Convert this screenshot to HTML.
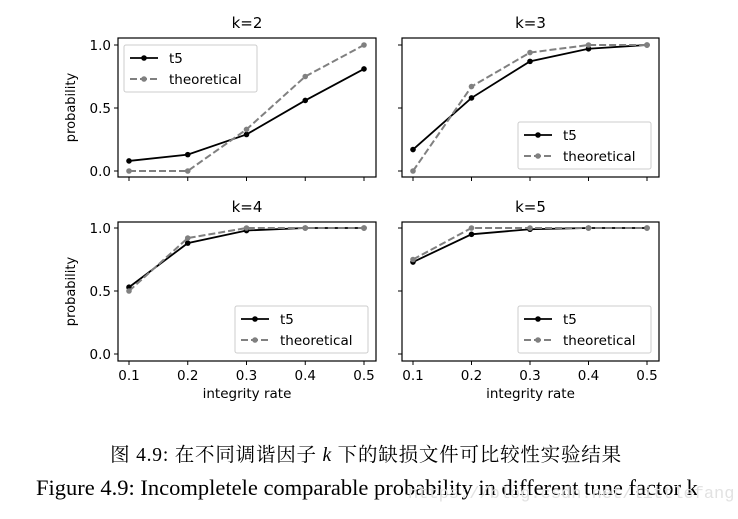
<!DOCTYPE html>
<html><head><meta charset="utf-8"><style>
body{margin:0;background:#fff;width:738px;height:519px;overflow:hidden}
svg{display:block}
text{font-family:"DejaVu Sans",sans-serif;fill:#000}
.cap{font-family:"Liberation Serif","Noto Serif CJK SC",serif}
</style></head><body>
<svg id="c" width="738" height="519"></svg>
<script>
const xCats=[0.1,0.2,0.3,0.4,0.5];
const xTickLabels=["0.1","0.2","0.3","0.4","0.5"];
const yTicks=[0,0.5,1.0];
const yTickLabels=["0.0","0.5","1.0"];
const titles=["k=2","k=3","k=4","k=5"];
const t5K2=[0.08,0.13,0.29,0.56,0.81];
const thK2=[0,0,0.33,0.75,1.0];
const t5K3=[0.17,0.58,0.87,0.97,1.0];
const thK3=[0,0.67,0.94,1.0,1.0];
const t5K4=[0.53,0.88,0.98,1.0,1.0];
const thK4=[0.5,0.92,1.0,1.0,1.0];
const t5K5=[0.73,0.95,0.99,1.0,1.0];
const thK5=[0.75,1.0,1.0,1.0,1.0];
const svg=document.getElementById('c');
const NS='http://www.w3.org/2000/svg';
function mk(t,a,p){const e=document.createElementNS(NS,t);for(const k in a)e.setAttribute(k,a[k]);(p||svg).appendChild(e);return e;}
const panels=[
 {L:118,R:376,T:38,B:177,y1:45,y0:171,t5:t5K2,th:thK2,leg:'ul',yl:true,xl:false},
 {L:402,R:659,T:38,B:177,y1:45,y0:171,t5:t5K3,th:thK3,leg:'lr',yl:false,xl:false},
 {L:118,R:376,T:222,B:361,y1:228,y0:354,t5:t5K4,th:thK4,leg:'lr',yl:true,xl:true},
 {L:402,R:659,T:222,B:361,y1:228,y0:354,t5:t5K5,th:thK5,leg:'lr',yl:false,xl:true}];
panels.forEach((p,i)=>{
 const g=mk('g',{});
 
 
 const x0=p.L+11,x1=p.R-12;
 const sx=v=>x0+(v-xCats[0])/(xCats[4]-xCats[0])*(x1-x0);
 const sy=v=>p.y0-v*(p.y0-p.y1);
 const t=mk('text',{x:(p.L+p.R)/2,y:p.T-10,'text-anchor':'middle','font-size':15},g);t.textContent=titles[i];
 
 xCats.forEach((v,j)=>{mk('line',{x1:sx(v),x2:sx(v),y1:p.B,y2:p.B+4,stroke:'#000'},g);
  if(p.xl){const tt=mk('text',{x:sx(v),y:p.B+19,'text-anchor':'middle','font-size':13.5},g);tt.textContent=xTickLabels[j];
   }});
 yTicks.forEach((v,j)=>{mk('line',{x1:p.L-4,x2:p.L,y1:sy(v),y2:sy(v),stroke:'#000'},g);
  if(p.yl){const tt=mk('text',{x:p.L-7,y:sy(v)+5,'text-anchor':'end','font-size':13.5},g);tt.textContent=yTickLabels[j];
   }});
 if(p.yl){const yl=mk('text',{x:0,y:0,'text-anchor':'middle','font-size':13,transform:`translate(${p.L-43},${(p.T+p.B)/2}) rotate(-90)`},g);yl.textContent='probability';
  }
 if(p.xl){const xl=mk('text',{x:(p.L+p.R)/2,y:p.B+37,'text-anchor':'middle','font-size':13.5},g);xl.textContent='integrity rate';
  }
 const pt=a=>a.map((v,j)=>sx(xCats[j])+','+sy(v)).join(' ');
 const lt=mk('polyline',{points:pt(p.t5),fill:'none',stroke:'#000','stroke-width':1.8},g);
 
 p.t5.forEach((v,j)=>{const c=mk('circle',{cx:sx(xCats[j]),cy:sy(v),r:2.8,fill:'#000'},g);});
 const lh=mk('polyline',{points:pt(p.th),fill:'none',stroke:'#808080','stroke-width':2,'stroke-dasharray':'7,3'},g);
 
 p.th.forEach((v,j)=>{const c=mk('circle',{cx:sx(xCats[j]),cy:sy(v),r:2.8,fill:'#808080'},g);});
 mk('rect',{x:p.L,y:p.T,width:p.R-p.L,height:p.B-p.T,fill:'none',stroke:'#000','stroke-width':1.2},g);
 const lw=133,lh2=47;
 const lx=p.leg==='ul'?p.L+6:p.R-8-lw, ly=p.leg==='ul'?p.T+7:p.B-8-lh2;
 const lg=mk('g',{},g);
 mk('rect',{x:lx,y:ly,width:lw,height:lh2,fill:'#fff',stroke:'#ccc',rx:2},lg);
 mk('line',{x1:lx+6,x2:lx+34,y1:ly+13,y2:ly+13,stroke:'#000','stroke-width':1.8},lg);
 mk('circle',{cx:lx+20,cy:ly+13,r:2.8,fill:'#000'},lg);
 const a=mk('text',{x:lx+45,y:ly+18,'font-size':13.5},lg);a.textContent='t5';
 
 mk('line',{x1:lx+6,x2:lx+34,y1:ly+34,y2:ly+34,stroke:'#808080','stroke-width':2,'stroke-dasharray':'7,3'},lg);
 mk('circle',{cx:lx+20,cy:ly+34,r:2.8,fill:'#808080'},lg);
 const b=mk('text',{x:lx+45,y:ly+39,'font-size':13.5},lg);b.textContent='theoretical';
 
});
</script>
<div class="cap" style="position:absolute;left:0;top:439px;width:732px;text-align:center;font-size:19.5px;letter-spacing:0.8px;white-space:nowrap">图 4.9: 在不同调谐因子 <i>k</i> 下的缺损文件可比较性实验结果</div>
<div class="cap" style="position:absolute;left:36px;top:475px;font-size:22.5px;white-space:nowrap">Figure 4.9: Incompletele comparable probability in different tune factor k</div>
<div style="position:absolute;left:408px;top:485px;font-family:'Liberation Mono',monospace;font-size:17px;color:#e2e2e2;white-space:nowrap">https://blog.csdn.net/littlefang</div>
</body></html>
